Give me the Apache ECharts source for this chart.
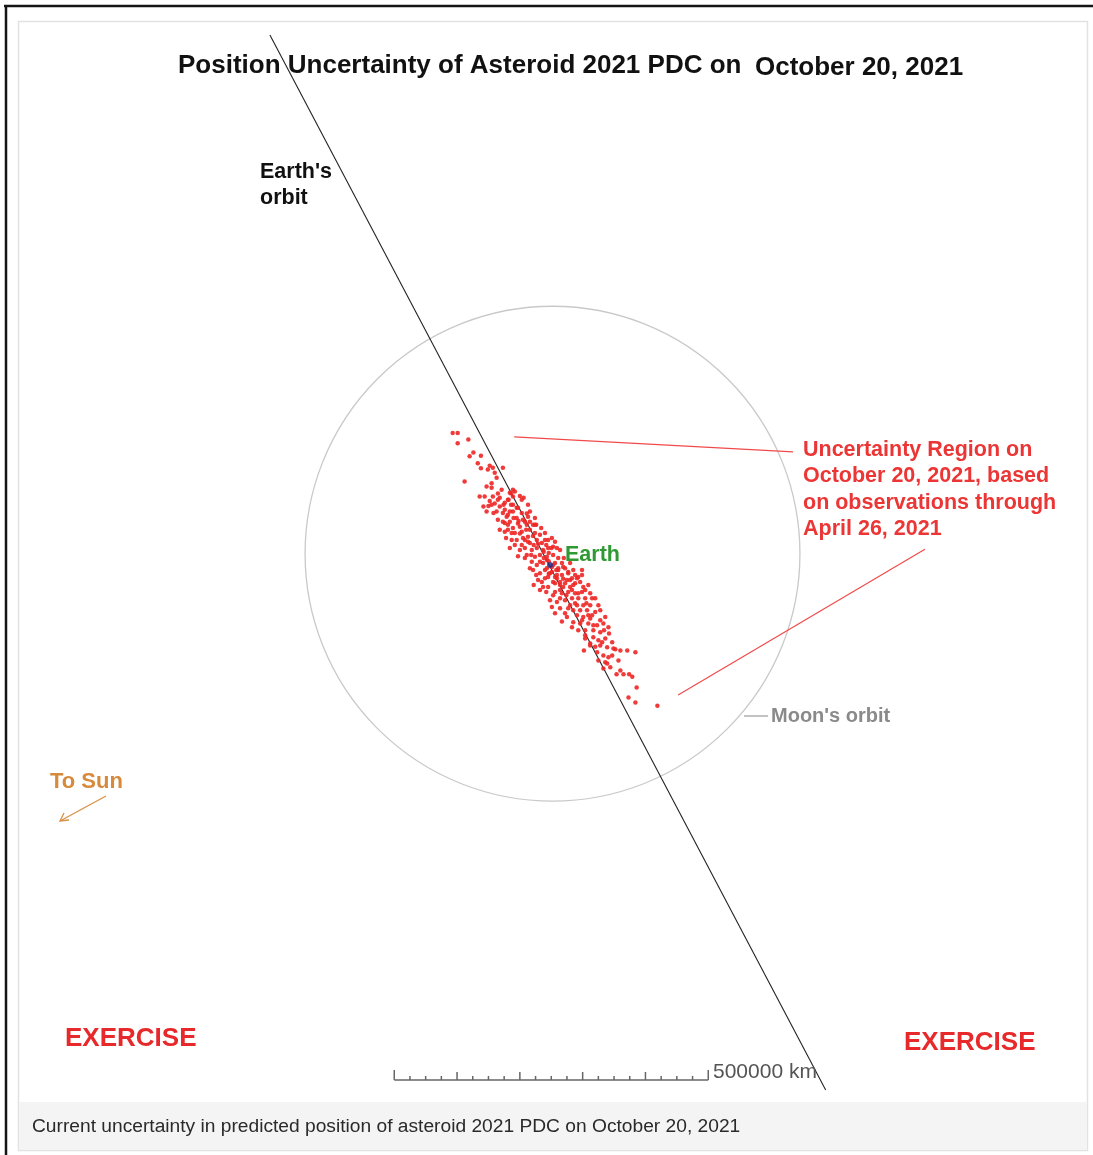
<!DOCTYPE html>
<html><head><meta charset="utf-8">
<script src="https://cdn.jsdelivr.net/npm/echarts@6/dist/echarts.min.js"></script>
<style>html,body{margin:0;padding:0;background:#fff}#c{width:1093px;height:1155px}</style>
</head><body><div id="c"></div><script>
// All positions in thousands of km, Earth at origin (x right, y up)
const cloudUpper = [[-155,210],[-147,210],[-147,194],[-130,200],[-122,179],[-128,173],[-110,174],[-115,162],[-136,133],[-110,154],[-96,158],[-91,155],[-99,152],[-88,147],[-85,139],[-75,155],[-93,130],[-101,125],[-93,123],[-77,120],[-83,114],[-62,114],[-59,120],[-48,110],[-42,107],[-112,109],[-104,109],[-96,102],[-88,98],[-106,93],[-98,94],[-74,96],[-66,104],[-59,96],[-53,91],[-72,88],[-64,85],[-45,83],[-37,82],[-24,75],[-69,77],[-58,75],[-50,70],[-40,69],[-32,69],[-75,69]];
const cloudCore = [[-91,109],[-83,104],[-93,96],[-80,93],[-72,99],[-67,104],[-59,109],[-56,117],[-64,115],[-75,83],[-85,85],[-67,80],[-59,85],[-51,91],[-53,75],[-64,69],[-72,67],[-43,72],[-35,77],[-37,64],[-48,61],[-59,59],[-67,56],[-56,51],[-45,53],[-32,56],[-27,64],[-24,51],[-35,45],[-43,43],[-53,40],[-61,40],[-32,35],[-21,40],[-16,48],[-13,35],[-8,40],[3,43],[8,37],[11,27],[-3,27],[-11,24],[-21,27],[-29,24],[-40,27],[-45,32],[-37,16],[-24,13],[-16,16],[-5,13],[5,16],[13,11],[19,3],[8,3],[-11,3],[-21,0],[-29,5],[-8,-8],[3,-11],[13,-8],[24,-5],[29,-13],[19,-16],[8,-19],[-3,-19],[-16,-13],[-27,-8],[16,-27],[27,-24],[35,-21],[40,-29],[48,-27],[53,-35],[32,-35],[21,-35],[8,-29],[-19,-24],[-3,-35],[45,-19],[-16,5],[-5,8],[3,-3],[-51,66],[-38,56],[-27,46],[-19,34],[-10,21],[-2,19],[2,27],[-6,32],[-35,37],[-26,32],[-48,50],[-40,40],[-30,16],[-10,11],[-2,6],[10,-8],[-2,-14],[11,-21],[24,-29],[35,-40],[26,-48],[16,-53],[45,-45],[58,-61],[40,-61],[29,-69],[51,-88],[64,-85],[-22,64],[-62,96],[-80,107]];
const cloudFill = [[-67,64],[-61,51],[-70,43],[-56,32],[-48,24],[-40,11],[-51,14],[-32,-5],[-22,-16],[-13,-27],[-6,-43],[0,-56],[3,-67],[16,-69],[72,-75],[80,-88],[69,-96],[61,-80],[86,-104],[35,-99],[27,-83],[61,-32],[56,-40],[72,-53],[80,-72],[-14,59],[-8,51],[-3,40],[-35,96],[-45,104],[-32,85],[-24,64],[-83,72],[-90,83],[-101,85],[-80,56],[-64,27],[-72,53],[-26,-32],[-16,-40],[16,-40],[40,-16],[51,-8],[32,3],[22,11],[16,24],[5,29],[99,-144],[109,-152],[77,-152],[85,-165],[112,-168]];
const cloudLower = [[-5,-5],[5,0],[13,-5],[21,-3],[29,-11],[37,-8],[51,-16],[43,-21],[32,-24],[21,-22],[11,-16],[0,-13],[-8,-21],[5,-27],[16,-32],[37,-32],[-11,-35],[8,-43],[19,-45],[29,-43],[40,-45],[51,-43],[64,-45],[67,-53],[56,-53],[45,-53],[35,-53],[24,-56],[11,-59],[5,-48],[32,-64],[43,-64],[53,-64],[64,-64],[77,-64],[37,-72],[48,-72],[59,-72],[8,-77],[24,-77],[43,-80],[53,-83],[67,-80],[88,-83],[19,-90],[37,-91],[48,-93],[61,-93],[75,-96],[85,-93],[93,-99],[45,-104],[56,-104],[69,-104],[80,-107],[56,-112],[69,-115],[77,-120],[88,-117],[99,-123],[64,-128],[80,-128],[91,-131],[101,-133],[112,-136],[123,-136],[136,-139],[85,-144],[93,-147],[75,-139]];
const cloudTail = [[94,-109],[56,-117],[64,-125],[72,-130],[83,-123],[104,-134],[54,-136],[88,-155],[91,-157],[96,-163],[106,-174],[117,-174],[126,-174],[131,-178],[138,-195],[125,-211],[136,-219],[171,-224]];
const earthPos = [[0,0]];
const earthOrbit = [[-446,844],[439,-836]];
const moonOrbit = [[4,18,394]];          // centre x, centre y, radius
const pointerLines = [[[-57,204],[387,180]],[[204,-207],[597,25]]];
const scaleBarStart = [[-248,-820]];
const scaleTicks = [0,25,50,75,100,125,150,175,200,225,250,275,300,325,350,375,400,425,450,475,500];
const scaleLabel = '500000 km';
const titleA = 'Position Uncertainty of Asteroid 2021 PDC on';
const titleB = 'October 20, 2021';
const regionText = ['Uncertainty Region on','October 20, 2021, based','on observations through','April 26, 2021'];
const caption = 'Current uncertainty in predicted position of asteroid 2021 PDC on October 20, 2021';

const W = 1093, H = 1155;
const PX_PER_UNIT = 314 / 500;
const ORIGIN = [550, 565];
const FF = '"Liberation Sans", Arial, sans-serif';

const chart = echarts.init(document.getElementById('c'), null, {renderer:'canvas'});
const T = (text, x, y, size, color, bold, extra) => Object.assign({
  type:'text', x, y, z:10,
  style:{text, font:(bold?'bold ':'')+size+'px '+FF, fill:color, align:'left', verticalAlign:'middle'}
}, extra||{});

const graphics = [
  {type:'rect', z:-5, shape:{x:18.5,y:21.5,width:1069,height:1129}, style:{fill:'#fff', stroke:'#e2e2e2', lineWidth:1.5}},
  {type:'rect', z:-4, shape:{x:19.5,y:1102,width:1067,height:48}, style:{fill:'#f4f4f4'}},
  {type:'line', z:-3, shape:{x1:4,y1:6,x2:1093,y2:6}, style:{stroke:'#151515', lineWidth:2.5}},
  {type:'line', z:-3, shape:{x1:6,y1:5,x2:6,y2:1155}, style:{stroke:'#151515', lineWidth:2.5}},
  T(titleA, 178, 66, 26, '#111', true),
  T(titleB, 755, 68, 26, '#111', true),
  T("Earth's", 260, 172, 21.5, '#111', true),
  T('orbit', 260, 198, 21.5, '#111', true),
  T('Earth', 565, 555, 21.5, '#2f9a33', true),
  ...regionText.map((t,i)=>T(t, 803, 450 + i*26.3, 21.5, '#ec3535', true)),
  {type:'line', z:10, shape:{x1:744,y1:716,x2:768,y2:716}, style:{stroke:'#999', lineWidth:1.2}},
  T("Moon's orbit", 771, 716, 20, '#8a8a8a', true),
  T('To Sun', 50, 782, 22, '#d58a3c', true),
  {type:'line', z:10, shape:{x1:106,y1:796,x2:60,y2:821}, style:{stroke:'#d89045', lineWidth:1.3}},
  {type:'polyline', z:10, shape:{points:[[64,813],[60,821],[69,820]]}, style:{stroke:'#d89045', lineWidth:1.3, fill:null}},
  T('EXERCISE', 65, 1039, 26, '#e8292b', true),
  T('EXERCISE', 904, 1043, 26, '#e8292b', true),
  T(scaleLabel, 713, 1072, 21, '#555', false),
  T(caption, 32, 1127, 19.2, '#2a2a2a', false)
];

const xMin = -ORIGIN[0] / PX_PER_UNIT, xMax = (W - ORIGIN[0]) / PX_PER_UNIT;
const yMax = ORIGIN[1] / PX_PER_UNIT, yMin = -(H - ORIGIN[1]) / PX_PER_UNIT;

chart.setOption({
  animation:false,
  backgroundColor:'#fff',
  grid:{left:0,right:0,top:0,bottom:0},
  xAxis:{type:'value', min:xMin, max:xMax, show:false},
  yAxis:{type:'value', min:yMin, max:yMax, show:false},
  graphic:graphics,
  series:[
    {type:'custom', name:'Moon orbit', coordinateSystem:'cartesian2d', data:moonOrbit, z:1, silent:true,
     renderItem:(p, api)=>{
       const c = api.coord([api.value(0), api.value(1)]);
       const r = api.size([api.value(2), 0])[0];
       return {type:'circle', shape:{cx:c[0], cy:c[1], r}, style:{fill:'none', stroke:'#c9c9c9', lineWidth:1.3}};
     }},
    {type:'line', name:"Earth's orbit", data:earthOrbit, symbol:'none', z:3, silent:true,
     lineStyle:{color:'#222', width:1.1}},
    ...pointerLines.map(d=>({type:'line', data:d, symbol:'none', z:3, silent:true,
     lineStyle:{color:'#f24a4a', width:1.2}})),
    {type:'scatter', name:'Uncertainty', data:[...cloudUpper, ...cloudCore, ...cloudFill, ...cloudLower, ...cloudTail],
     symbol:'circle', symbolSize:4.5, z:4, itemStyle:{color:'#ee2626', opacity:0.9}},
    {type:'scatter', name:'Earth', data:earthPos, symbolSize:6, z:5, itemStyle:{color:'#1c2a86'}},
    {type:'custom', name:'Scale bar', coordinateSystem:'cartesian2d', data:scaleBarStart, z:3, silent:true,
     renderItem:(p, api)=>{
       const x0 = api.value(0), y0 = api.value(1);
       const last = scaleTicks[scaleTicks.length-1];
       const a = api.coord([x0, y0]), b = api.coord([x0 + last, y0]);
       const st = {stroke:'#666', lineWidth:1.5};
       const children = [{type:'line', shape:{x1:a[0],y1:a[1],x2:b[0],y2:b[1]}, style:st}];
       scaleTicks.forEach(t=>{
         const q = api.coord([x0 + t, y0]);
         const h = (t===0 || t===last) ? 10 : (t % 100 === 0 ? 8 : 4);
         children.push({type:'line', shape:{x1:q[0],y1:q[1],x2:q[0],y2:q[1]-h}, style:st});
       });
       return {type:'group', children};
     }}
  ]
});
</script></body></html>
